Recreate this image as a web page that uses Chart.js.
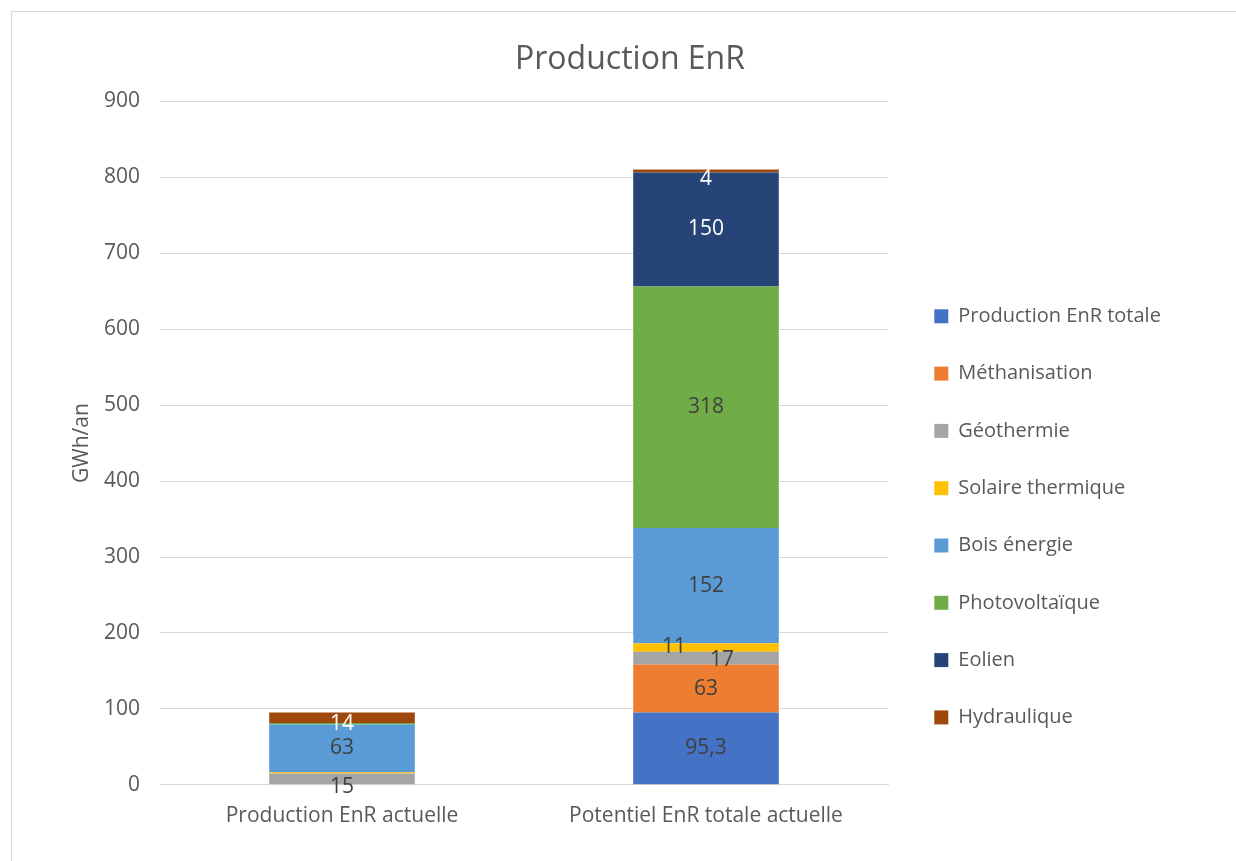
<!DOCTYPE html>
<html>
<head>
<meta charset="utf-8">
<script src="https://cdn.jsdelivr.net/npm/chart.js@4.4.1/dist/chart.umd.min.js"></script>
<style>
  html, body { margin: 0; padding: 0; background: #ffffff; width: 1236px; height: 861px; overflow: hidden; }
  #frame { position: absolute; left: 11px; top: 11px; width: 1300px; height: 900px; border-top: 1px solid #d9d9d9; border-left: 1px solid #d9d9d9; }
  #wrap { position: absolute; left: 12px; top: 12px; width: 1236px; height: 849px; }
</style>
</head>
<body>
<div id="frame"></div>
<div id="wrap"><canvas id="c" width="1236" height="849"></canvas></div>
<script>
// ---- Data ----
const categories = ['Production EnR actuelle', 'Potentiel EnR totale actuelle'];
const seriesNames = ['Production EnR totale', 'Méthanisation', 'Géothermie', 'Solaire thermique', 'Bois énergie', 'Photovoltaïque', 'Eolien', 'Hydraulique'];
const productionTotale = [null, 95.3];
const methanisation = [null, 63];
const geothermie = [15, 17];
const solaireThermique = [1.5, 11];
const boisEnergie = [63, 152];
const photovoltaique = [1.8, 318];
const eolien = [null, 150];
const hydraulique = [14, 4];
const yAxisMin = 0;
const yAxisMax = 900;
const yAxisStep = 100;
const yAxisTitle = 'GWh/an';
const chartTitle = 'Production EnR';

// ---- Styles ----
const seriesValues = [productionTotale, methanisation, geothermie, solaireThermique, boisEnergie, photovoltaique, eolien, hydraulique];
const seriesColors = ['#4472C4', '#ED7D31', '#A5A5A5', '#FFC000', '#5B9BD5', '#70AD47', '#264478', '#9E480E'];
const labelColors = ['#404040', '#404040', '#404040', '#404040', '#404040', '#404040', '#ffffff', '#ffffff'];
const FONT = '"Open Sans", "Liberation Sans", sans-serif';
const TEXT = '#595959';
const GRID = '#d9d9d9';

// label nudges (dataset-index-dataIndex -> [dx, dy]) to mimic the original's label placement
const labelNudge = { '7-0': [0, 6], '2-0': [0, 8], '3-1': [-32, 0], '2-1': [16, 2], '7-1': [0, 8] };

const datasets = seriesNames.map((name, i) => ({
  label: name,
  data: seriesValues[i],
  backgroundColor: seriesColors[i],
  borderWidth: 0,
  barPercentage: 0.4,
  categoryPercentage: 1.0
}));

const valueLabels = {
  id: 'valueLabels',
  afterDatasetsDraw(chart) {
    const ctx = chart.ctx;
    ctx.save();
    ctx.font = '21px ' + FONT;
    ctx.textAlign = 'center';
    ctx.textBaseline = 'middle';
    chart.data.datasets.forEach((ds, di) => {
      const meta = chart.getDatasetMeta(di);
      if (meta.hidden) return;
      meta.data.forEach((bar, i) => {
        const v = ds.data[i];
        if (v == null || v < 2) return;
        const n = labelNudge[di + '-' + i] || [0, 0];
        ctx.fillStyle = labelColors[di];
        ctx.fillText(String(v).replace('.', ','), bar.x + n[0], (bar.y + bar.base) / 2 + n[1]);
      });
    });
    ctx.restore();
  }
};

const LEGEND_WIDTH = 360;
const LEGEND_LEFT = 885;
const LEGEND_TOP = 257;
const legendPlace = {
  id: 'legendPlace',
  beforeLayout(chart) {
    const lg = chart.legend;
    if (lg && !lg._patched) {
      const orig = lg.fit;
      lg.fit = function () { orig.call(this); this.width = LEGEND_WIDTH; };
      lg._patched = true;
    }
  },
  afterLayout(chart) {
    const lg = chart.legend;
    const w = lg.width, h = lg.height;
    lg.left = LEGEND_LEFT; lg.right = LEGEND_LEFT + w;
    lg.top = LEGEND_TOP; lg.bottom = LEGEND_TOP + h;
  }
};

new Chart(document.getElementById('c'), {
  type: 'bar',
  data: { labels: categories, datasets },
  plugins: [valueLabels, legendPlace],
  options: {
    responsive: false,
    animation: false,
    layout: { padding: { left: 0, right: 0, top: 0, bottom: 13 } },
    plugins: {
      title: {
        display: true,
        text: chartTitle,
        color: TEXT,
        font: { family: FONT, size: 32, weight: 'normal' },
        padding: { top: 29, bottom: 22 }
      },
      legend: {
        display: true,
        position: 'right',
        align: 'start',
        labels: {
          color: TEXT,
          font: { family: FONT, size: 20 },
          boxWidth: 14,
          boxHeight: 14,
          padding: 37.3
        }
      },
      tooltip: { enabled: false }
    },
    scales: {
      x: {
        stacked: true,
        grid: { display: false, drawTicks: false },
        border: { display: true, color: GRID, width: 1 },
        ticks: { color: TEXT, font: { family: FONT, size: 21 }, padding: 19, maxRotation: 0 }
      },
      y: {
        stacked: true,
        min: yAxisMin,
        max: yAxisMax,
        ticks: { stepSize: yAxisStep, color: TEXT, font: { family: FONT, size: 21 }, padding: 20 },
        grid: { color: GRID, lineWidth: 1, drawTicks: false },
        border: { display: false },
        title: { display: true, text: yAxisTitle, color: TEXT, font: { family: FONT, size: 21 }, padding: { top: 57, bottom: 0 } },
        afterFit(scale) { scale.width = 148; }
      }
    }
  }
});
</script>
</body>
</html>
